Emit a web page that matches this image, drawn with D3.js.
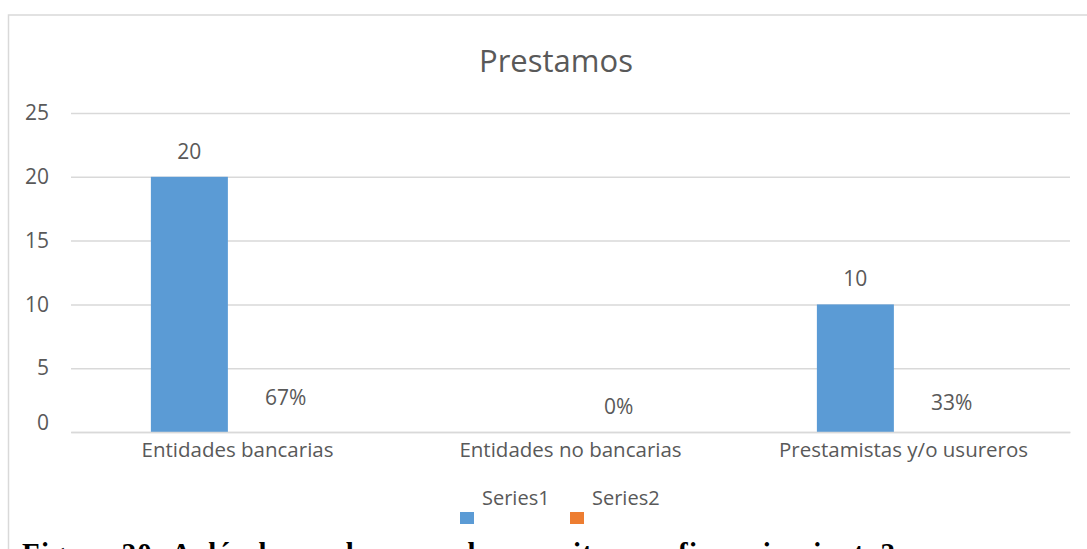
<!DOCTYPE html>
<html>
<head>
<meta charset="utf-8">
<script src="https://cdn.jsdelivr.net/npm/d3@7"></script>
<style>
  body { margin: 0; background: #fff; }
  text { font-family: "Open Sans", sans-serif; fill: #595959; }
</style>
</head>
<body>
<div id="vis"></div>
<script>
const width = 1087;
const height = 549;

// data
const categories = ["Entidades bancarias", "Entidades no bancarias", "Prestamistas y/o usureros"];
const seriesNames = ["Series1", "Series2"];
const series1 = [20, null, 10];
const series2 = [0.67, 0, 0.33];
const series2Labels = ["67%", "0%", "33%"];
const yTicks = [0, 5, 10, 15, 20, 25];
const colors = ["#5b9bd5", "#ed7d31"];

const margin = {top: 113, right: 17, bottom: 117, left: 71};
const plotW = width - margin.left - margin.right;
const plotH = height - margin.top - margin.bottom;

const svg = d3.select("div#vis")
	.append("svg")
		.attr("width", width)
		.attr("height", height);

// chart area border (right / bottom fall outside the crop)
svg.append("rect")
	.attr("x", 8.5)
	.attr("y", 15)
	.attr("width", 1200)
	.attr("height", 700)
	.attr("fill", "none")
	.attr("stroke", "#d9d9d9")
	.attr("stroke-width", 1.5);

svg.append("text")
	.attr("x", 556)
	.attr("y", 72)
	.attr("text-anchor", "middle")
	.style("font-size", "31px")
	.text("Prestamos");

const g = svg.append("g")
	.attr("transform", `translate(${margin.left}, ${margin.top})`);

const x0 = d3.scaleBand()
	.domain(categories)
	.range([0, plotW])
	.padding(0);

const x1 = d3.scaleBand()
	.domain(seriesNames)
	.range([0, x0.bandwidth()])
	.paddingInner(0.2)
	.paddingOuter(0.83);

const y = d3.scaleLinear()
	.domain([0, 25])
	.range([plotH, 0]);

// gridlines + tick labels
const yAxis = g.append("g")
	.call(d3.axisLeft(y).tickValues(yTicks).tickSize(-plotW).tickPadding(22));
yAxis.select(".domain").remove();
yAxis.selectAll(".tick line")
	.attr("stroke", "#d9d9d9")
	.attr("stroke-width", 1.5);
yAxis.selectAll(".tick text")
	.style("font-size", "21px")
	.style("font-family", "'Open Sans', sans-serif")
	.attr("fill", "#595959")
	.attr("dy", d => d === 0 ? "-0.1em" : "0.32em");

const rows = categories.map((c, i) => ({cat: c, vals: [
	{s: "Series1", v: series1[i], label: series1[i] == null ? null : String(series1[i])},
	{s: "Series2", v: series2[i], label: series2Labels[i]}
]}));

const groups = g.selectAll("g.cat")
	.data(rows)
	.enter()
	.append("g")
		.classed("cat", true)
		.attr("transform", d => `translate(${x0(d.cat)}, 0)`);

groups.selectAll("rect")
	.data(d => d.vals.filter(v => v.v != null))
	.enter()
	.append("rect")
		.attr("x", d => x1(d.s))
		.attr("y", d => y(d.v))
		.attr("width", x1.bandwidth())
		.attr("height", d => plotH - y(d.v))
		.attr("fill", d => d.s === "Series1" ? colors[0] : "none");

groups.selectAll("text.lbl")
	.data(d => d.vals.filter(v => v.label != null))
	.enter()
	.append("text")
		.classed("lbl", true)
		.attr("x", d => x1(d.s) + x1.bandwidth() / 2)
		.attr("y", d => y(d.v) - 18)
		.attr("text-anchor", "middle")
		.style("font-size", "21px")
		.attr("fill", "#404040")
		.text(d => d.label);

// category axis
const xAxis = g.append("g")
	.attr("transform", `translate(0, ${plotH})`)
	.call(d3.axisBottom(x0).tickSize(0).tickPadding(10));
xAxis.select(".domain")
	.attr("stroke", "#d9d9d9")
	.attr("stroke-width", 1.5);
xAxis.selectAll(".tick text")
	.style("font-size", "20.5px")
	.style("font-family", "'Open Sans', sans-serif")
	.attr("fill", "#595959");

// legend
const legend = svg.append("g")
	.selectAll("g")
	.data(seriesNames)
	.enter()
	.append("g")
		.attr("transform", (d, i) => `translate(${460 + i * 110}, 512)`);

legend.append("rect")
	.attr("width", 14)
	.attr("height", 12)
	.attr("fill", (d, i) => colors[i]);

legend.append("text")
	.attr("x", 22)
	.attr("y", -7)
	.style("font-size", "20px")
	.text(d => d);

// figure caption (only its top shows in the reference crop)
svg.append("text")
	.attr("x", 22)
	.attr("y", 563)
	.attr("textLength", 873)
	.attr("lengthAdjust", "spacing")
	.style("font-family", "'Liberation Serif', 'Times New Roman', serif")
	.style("font-weight", "bold")
	.style("font-size", "29px")
	.style("fill", "#000")
	.text("Figura 20: A dónde acuden cuando necesitan un financiamiento?");
</script>
</body>
</html>
